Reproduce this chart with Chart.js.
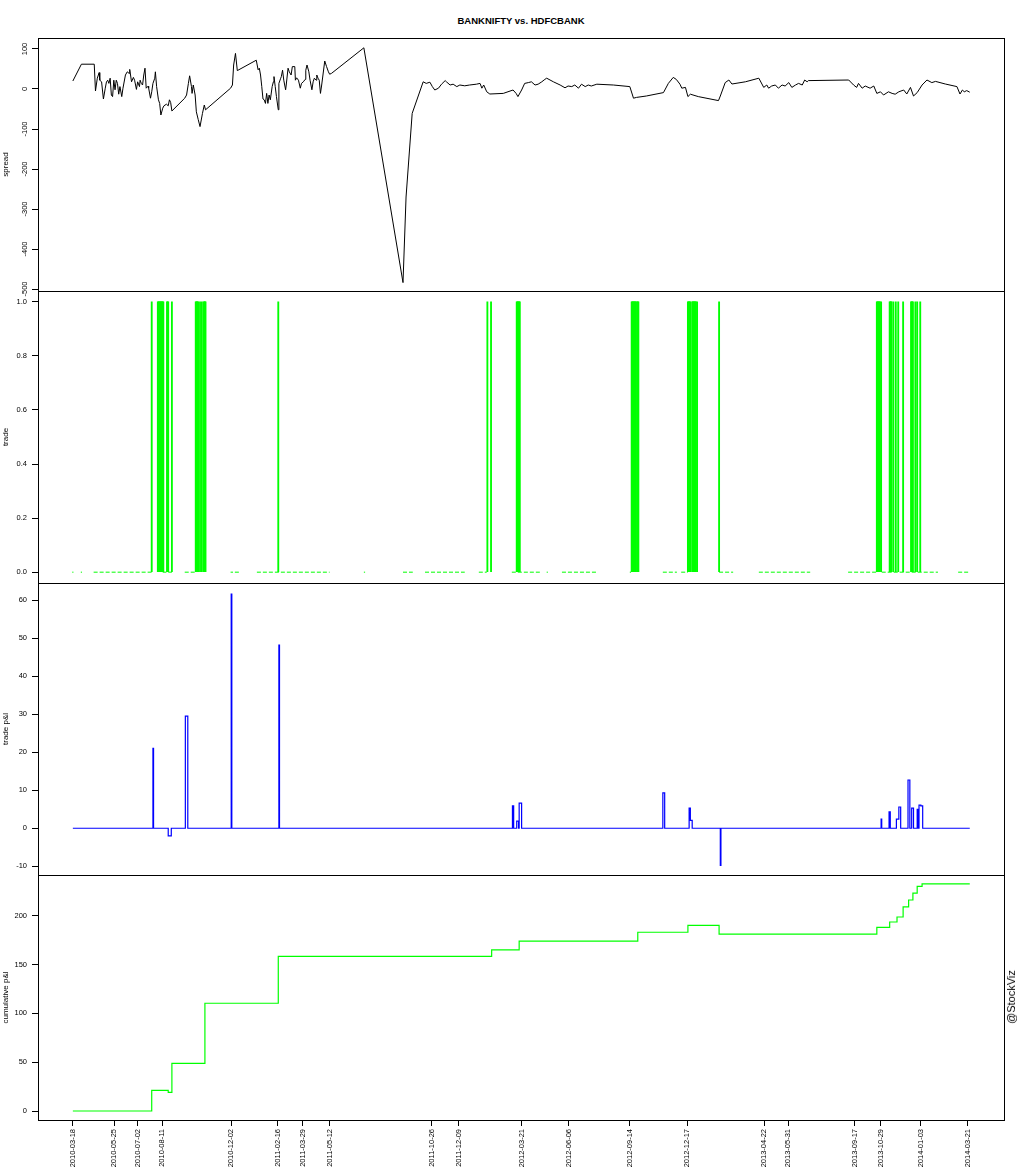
<!DOCTYPE html>
<html><head><meta charset="utf-8">
<script src="https://cdn.jsdelivr.net/npm/chart.js@4.4.1/dist/chart.umd.min.js"></script>
<style>
html,body{margin:0;padding:0;background:#fff;}
#wrap{position:relative;width:1024px;height:1168px;overflow:hidden;background:#fff;}
canvas{position:absolute;left:0;}
#title{position:absolute;top:15px;left:38px;width:966px;text-align:center;font:bold 9.5px 'Liberation Sans',Arial,sans-serif;line-height:11px;color:#000;}
#credit{position:absolute;left:1011px;top:997px;transform:translate(-50%,-50%) rotate(-90deg);font:11px 'Liberation Sans',Arial,sans-serif;white-space:nowrap;color:#000;}
</style></head><body>
<div id="wrap">
<div id="title">BANKNIFTY vs. HDFCBANK</div>
<canvas id="c1"></canvas><canvas id="c2"></canvas><canvas id="c3"></canvas><canvas id="c4"></canvas>
<div id="credit">@StockViz</div>
</div>
<script>
// ---------- data (x = days since 2010-03-18) ----------
const dateTicks = ['2010-03-18','2010-05-25','2010-07-02','2010-08-11','2010-12-02','2011-02-16','2011-03-29','2011-05-12','2011-10-26','2011-12-09','2012-03-21','2012-06-06','2012-09-14','2012-12-17','2013-04-22','2013-05-31','2013-09-17','2013-10-29','2014-01-03','2014-03-21'];

const spreadTicks = [-500,-400,-300,-200,-100,0,100];
const tradeTicks = [0,0.2,0.4,0.6,0.8,1.0];
const pnlTicks = [-10,0,10,20,30,40,50,60];
const cumTicks = [0,50,100,150,200];

const spreadDays = [0,14,35,37,40,43,44,47,50,53,55,57,59,61,63,65,67,69,71,73,75,77,80,82,86,89,92,93,96,99,101,104,106,109,110,112,114,116,118,120,123,124,127,129,131,134,135,137,140,142,144,147,149,153,156,158,160,162,183,186,189,191,194,195,197,200,202,205,208,212,215,217,258,261,263,266,269,300,303,305,307,309,311,313,315,317,319,321,323,326,328,329,331,333,336,337,340,341,343,345,348,349,352,354,357,359,363,364,366,369,372,374,377,380,381,383,386,388,391,393,395,398,399,401,403,405,407,412,415,418,420,423,476,540,545,555,573,578,584,588,592,598,603,609,611,617,622,628,633,641,649,660,666,669,672,677,682,704,720,725,728,734,739,745,750,756,761,767,772,775,786,797,805,810,816,821,827,832,838,843,848,857,884,911,917,922,938,966,974,982,987,993,996,1002,1006,1010,1023,1056,1059,1067,1073,1078,1100,1122,1130,1135,1138,1143,1149,1154,1160,1165,1171,1176,1182,1187,1193,1197,1201,1203,1269,1277,1282,1285,1291,1296,1304,1310,1315,1321,1326,1334,1340,1345,1351,1359,1364,1370,1375,1381,1389,1397,1405,1411,1427,1446,1451,1455,1458,1462,1467];
const spreadVals = [20,62,62,-5,27,41,22,18,-25,2,18,22,14,27,-15,-19,22,-2,22,14,-13,6,-19,2,35,43,39,49,18,29,22,-1,18,6,22,14,10,35,52,2,7,2,-23,-7,14,27,43,6,-27,-36,-65,-48,-42,-38,-42,-27,-34,-55,-23,-15,14,33,6,-11,10,-15,-57,-76,-94,-61,-40,-52,2,10,60,89,46,72,48,52,35,6,-25,-27,-36,-11,-36,-15,-27,6,18,31,6,-19,-52,14,27,31,47,22,-2,10,52,43,35,56,56,22,28,22,2,14,18,24,47,60,43,22,-2,18,27,22,35,27,22,-11,10,70,56,43,37,39,103,-484,-270,-61,18,14,17,6,-2.5,2,12,21,18,10,12,6,10,8,10,12,14,2,10,-7,-12.5,-11,-2.5,-11,-19,-2.5,14,16,18,10,12,18,24,27,18,10,3,7.5,6,10,2,12,6,10,7.5,12,10,6,-23,-21,-17.5,-9,14,29,24,12,2,4,-19,-13,-19,-29,-17.5,16,22.5,12.5,18,27,4,10,2,7.5,10,2,10,7.5,16,4,10,14,10,22.5,18,21,22.5,10,4,14,2,7.5,2,7.5,-11,-7,-15,-7,-11,-13,-7,-2.5,-12.5,4,-17.5,-9,10,22.5,16,19,12.5,6,-12.5,-2.5,-7,-4,-8];

const tradeDays = [129,139,140,141,142,143,144,145,146,147,148,154,155,156,162,201,202,203,204,205,208,211,214,215,216,217,336,678,684,726,727,728,729,730,731,914,915,916,917,918,919,920,921,923,924,925,1006,1007,1008,1009,1010,1013,1014,1015,1016,1017,1018,1019,1021,1057,1315,1316,1317,1318,1319,1320,1322,1336,1337,1338,1339,1342,1346,1350,1358,1371,1372,1373,1374,1378,1381,1386];
const tradeObsStart = [-1,13,34,147,156,183,258,265,301,476,540,576,664,718,775,800,911,965,995,1057,1122,1268,1323,1448];
const tradeObsEnd   = [1,15,129,153,162,201,262,272,420,478,556,641,677,764,777,856,913,988,1006,1080,1206,1315,1415,1467];

const pnlDays = [0,131,132,156,161,184,188,259,260,337,338,719,721,726,729,730,734,965,968,1008,1010,1013,1059,1060,1322,1323,1335,1337,1347,1351,1354,1366,1369,1372,1375,1381,1382,1384,1387,1390,1467];
const pnlVals = [0,21,0,-2,0,29.5,0,61.6,0,48.2,0,5.9,0,1.9,0,6.6,0,9.3,0,5.3,2.1,0,-9.8,0,2.4,0,4.3,0,2.4,5.6,0,12.7,0,5.3,0,5.0,0,6.1,5.9,0,0];

const cumDays = [0,129,156,162,216,336,685,730,924,1006,1057,1315,1336,1348,1358,1367,1374,1381,1389,1467];
const cumVals = [0,21.2,19.1,48.8,110.3,158.4,165,174,183,190,181,188,193.5,198.6,209,216,223,230,232.5,232.5];

// ---------- helpers ----------
const DAY0 = Date.UTC(2010,2,18);
function dayOf(s){const p=s.split('-').map(Number);return (Date.UTC(p[0],p[1]-1,p[2])-DAY0)/86400000;}
const tickDays = dateTicks.map(dayOf);
const X_MIN = -57, X_MAX = 1523;
const FONT = "'Liberation Sans', Arial, sans-serif";

const boxPlugin = {id:'box', afterDraw(chart){
  const {ctx, chartArea:a} = chart;
  ctx.save(); ctx.strokeStyle='#000'; ctx.lineWidth=1;
  ctx.strokeRect(Math.round(a.left)+0.5, Math.round(a.top)+0.5, Math.round(a.right-a.left), Math.round(a.bottom-a.top));
  ctx.restore();
}};

function makeChart(id, top, bottom, isLast, cfg){
  const canvas = document.getElementById(id);
  const padTop = 12, padBottom = isLast ? 0 : 12, xAxisH = isLast ? 48 : 0;
  const h = (bottom - top) + padTop + padBottom + xAxisH;
  canvas.width = 1024; canvas.height = h;
  canvas.style.width = '1024px'; canvas.style.height = h + 'px';
  canvas.style.top = (top - padTop) + 'px';
  const yTickOpts = cfg.rotateY
    ? {autoSkip:false, minRotation:90, maxRotation:90, crossAlign:'center', padding:0, color:'#000', font:{family:FONT,size:7.5}, callback:v=>cfg.fmt(v)}
    : {autoSkip:false, padding:5, color:'#000', font:{family:FONT,size:7.5}, callback:v=>cfg.fmt(v)};
  return new Chart(canvas, {
    type: cfg.type,
    data: {datasets: cfg.datasets},
    options: {
      responsive:false, animation:false, devicePixelRatio:1, events:[],
      layout:{padding:{top:padTop,bottom:padBottom,left:0,right:20}},
      plugins:{legend:{display:false},tooltip:{enabled:false},title:{display:false}},
      scales:{
        x:{type:'linear', min:X_MIN, max:X_MAX, offset:false, display:isLast,
          afterBuildTicks:s=>{s.ticks = tickDays.map(v=>({value:v}));},
          afterFit:s=>{s.height = xAxisH;},
          ticks:{autoSkip:false, minRotation:90, maxRotation:90, padding:3, color:'#000', font:{family:FONT,size:7.5}, callback:(v,i)=>dateTicks[i]},
          grid:{display:true, offset:false, drawOnChartArea:false, drawTicks:true, tickLength:6, tickColor:'#000', lineWidth:1},
          border:{display:false}},
        y:{type:'linear', min:cfg.yMin, max:cfg.yMax,
          afterBuildTicks:s=>{s.ticks = cfg.yTicks.map(v=>({value:v}));},
          afterFit:s=>{s.width = 38;},
          ticks:yTickOpts,
          title:{display:true, text:cfg.yTitle, color:'#000', font:{family:FONT,size:8}, padding:{top:1,bottom:0}},
          grid:{display:true, drawOnChartArea:false, drawTicks:true, tickLength:6, tickColor:'#000', lineWidth:1},
          border:{display:false}}
      }
    },
    plugins:[boxPlugin]
  });
}

// panel 1: spread
makeChart('c1', 38, 291, false, {
  type:'line', yMin:-505, yMax:127.5, yTicks:spreadTicks, fmt:v=>String(v), yTitle:'spread', rotateY:true,
  datasets:[{data:spreadDays.map((d,i)=>({x:d,y:spreadVals[i]})), borderColor:'#000', borderWidth:1, pointRadius:0, tension:0, fill:false}]
});

// panel 2: trade
const zeroSeg = [];
tradeObsStart.forEach((s,i)=>{ zeroSeg.push({x:s,y:0},{x:tradeObsEnd[i],y:0},{x:tradeObsEnd[i]+0.5,y:null}); });
makeChart('c2', 291, 583, false, {
  type:'bar', yMin:-0.04, yMax:1.04, yTicks:tradeTicks, fmt:v=>v.toFixed(1), yTitle:'trade', rotateY:false,
  datasets:[
    {type:'bar', data:tradeDays.map(d=>({x:d,y:1})), backgroundColor:'#00ff00', borderWidth:0, barThickness:1.2},
    {type:'line', data:zeroSeg, borderColor:'#00ff00', borderWidth:1, borderDash:[4,2], pointRadius:0, spanGaps:false, fill:false}
  ]
});

// panel 3: trade p&l
makeChart('c3', 583, 875, false, {
  type:'line', yMin:-12.3, yMax:64.55, yTicks:pnlTicks, fmt:v=>String(v), yTitle:'trade p&l', rotateY:false,
  datasets:[{data:pnlDays.map((d,i)=>({x:d,y:pnlVals[i]})), borderColor:'#0000ff', borderWidth:1.2, pointRadius:0, stepped:true, fill:false}]
});

// panel 4: cumulative p&l
makeChart('c4', 875, 1120, true, {
  type:'line', yMin:-9.2, yMax:241.6, yTicks:cumTicks, fmt:v=>String(v), yTitle:'cumulative p&l', rotateY:false,
  datasets:[{data:cumDays.map((d,i)=>({x:d,y:cumVals[i]})), borderColor:'#00ff00', borderWidth:1.2, pointRadius:0, stepped:true, fill:false}]
});
</script>
</body></html>
